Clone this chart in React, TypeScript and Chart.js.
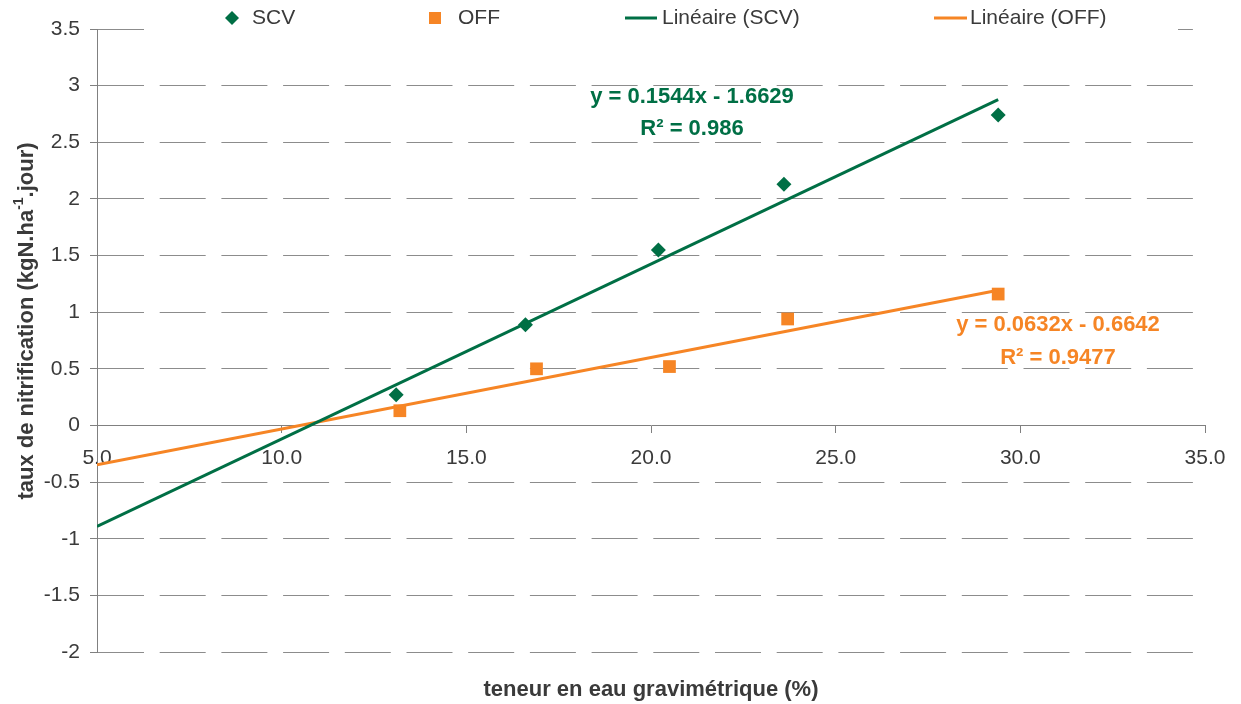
import React, { useEffect, useRef } from 'react';
import { Chart, registerables } from 'chart.js';

Chart.register(...registerables);

// ---- data ----
const scvX = [13.1, 16.6, 20.2, 23.6, 29.4];
const scvY = [0.27, 0.89, 1.55, 2.13, 2.74];
const offX = [13.2, 16.9, 20.5, 23.7, 29.4];
const offY = [0.13, 0.5, 0.52, 0.94, 1.16];
const trendX = [5, 29.4];
const scvTrendY = [-0.891, 2.876];
const offTrendY = [-0.348, 1.194];
const seriesLabels = ['SCV', 'OFF', 'Linéaire (SCV)', 'Linéaire (OFF)'];
const scvEquation = ['y = 0.1544x - 1.6629', 'R² = 0.986'];
const offEquation = ['y = 0.0632x - 0.6642', 'R² = 0.9477'];
const xAxisTitle = 'teneur en eau gravimétrique (%)';
const yAxisTitleParts = ['taux de nitrification (kgN.ha', '-1', '.jour)'];
const xMin = 5, xMax = 35, xStep = 5;
const yMin = -2, yMax = 3.5, yStep = 0.5;

const GREEN = '#006F45';
const ORANGE = '#F68525';
const GRID = '#8c8c8c';
const AXIS = '#808080';
const TEXT = '#3a3a3a';
const FONT = '"Liberation Sans", Arial, sans-serif';

const overlayPlugin = {
  id: 'overlay',
  afterDraw(chart: any) {
    const { ctx, chartArea, scales } = chart;
    const xs = scales.x;
    const ys = scales.y;
    ctx.save();

    // legend (white box over plot top)
    ctx.fillStyle = '#ffffff';
    ctx.fillRect(144, 4, 1034, 30);
    const ly = 18;
    ctx.font = `21px ${FONT}`;
    ctx.textBaseline = 'middle';
    ctx.textAlign = 'left';
    // SCV diamond
    ctx.fillStyle = GREEN;
    ctx.beginPath();
    ctx.moveTo(232 - 7, ly);
    ctx.lineTo(232, ly - 7);
    ctx.lineTo(232 + 7, ly);
    ctx.lineTo(232, ly + 7);
    ctx.closePath();
    ctx.fill();
    ctx.fillStyle = TEXT;
    ctx.fillText(seriesLabels[0], 252, ly);
    // OFF square
    ctx.fillStyle = ORANGE;
    ctx.fillRect(429, ly - 6, 12, 12);
    ctx.fillStyle = TEXT;
    ctx.fillText(seriesLabels[1], 458, ly);
    // trend lines
    ctx.lineWidth = 3;
    ctx.strokeStyle = GREEN;
    ctx.beginPath();
    ctx.moveTo(625, ly);
    ctx.lineTo(657, ly);
    ctx.stroke();
    ctx.fillStyle = TEXT;
    ctx.fillText(seriesLabels[2], 662, ly);
    ctx.strokeStyle = ORANGE;
    ctx.beginPath();
    ctx.moveTo(934, ly);
    ctx.lineTo(967, ly);
    ctx.stroke();
    ctx.fillText(seriesLabels[3], 970, ly);

    // equations
    ctx.font = `bold 22px ${FONT}`;
    ctx.textAlign = 'center';
    ctx.fillStyle = GREEN;
    ctx.fillText(scvEquation[0], xs.getPixelForValue(21.11), ys.getPixelForValue(2.896));
    ctx.fillText(scvEquation[1], xs.getPixelForValue(21.11), ys.getPixelForValue(2.622));
    ctx.fillStyle = ORANGE;
    ctx.fillText(offEquation[0], xs.getPixelForValue(31.02), ys.getPixelForValue(0.883));
    ctx.fillText(offEquation[1], xs.getPixelForValue(31.02), ys.getPixelForValue(0.6));

    // x axis title
    ctx.font = `bold 22px ${FONT}`;
    ctx.fillStyle = TEXT;
    ctx.fillText(xAxisTitle, (chartArea.left + chartArea.right) / 2, 690);

    // y axis title with superscript
    ctx.translate(27, 321);
    ctx.rotate(-Math.PI / 2);
    const mainFont = `bold 22px ${FONT}`;
    const supFont = `bold 14px ${FONT}`;
    ctx.font = mainFont;
    const w1 = ctx.measureText(yAxisTitleParts[0]).width;
    const w3 = ctx.measureText(yAxisTitleParts[2]).width;
    ctx.font = supFont;
    const w2 = ctx.measureText(yAxisTitleParts[1]).width;
    const x0 = -(w1 + w2 + w3) / 2;
    ctx.textAlign = 'left';
    ctx.font = mainFont;
    ctx.fillText(yAxisTitleParts[0], x0, 0);
    ctx.font = supFont;
    ctx.fillText(yAxisTitleParts[1], x0 + w1, -8);
    ctx.font = mainFont;
    ctx.fillText(yAxisTitleParts[2], x0 + w1 + w2, 0);

    ctx.restore();
  },
};

export default function App() {
  const ref = useRef<HTMLCanvasElement | null>(null);
  useEffect(() => {
    if (!ref.current) return;
    const chart = new Chart(ref.current, {
      type: 'scatter',
      data: {
        datasets: [
          {
            label: seriesLabels[0],
            data: scvX.map((x, i) => ({ x, y: scvY[i] })),
            pointStyle: 'rectRot',
            pointRadius: 7.5,
            backgroundColor: GREEN,
            borderColor: GREEN,
            borderWidth: 0,
            order: 2,
          },
          {
            label: seriesLabels[1],
            data: offX.map((x, i) => ({ x, y: offY[i] })),
            pointStyle: 'rect',
            pointRadius: 9,
            backgroundColor: ORANGE,
            borderColor: ORANGE,
            borderWidth: 0,
            order: 2,
          },
          {
            label: seriesLabels[2],
            data: trendX.map((x, i) => ({ x, y: scvTrendY[i] })),
            showLine: true,
            pointRadius: 0,
            borderColor: GREEN,
            borderWidth: 3,
            order: 1,
          },
          {
            label: seriesLabels[3],
            data: trendX.map((x, i) => ({ x, y: offTrendY[i] })),
            showLine: true,
            pointRadius: 0,
            borderColor: ORANGE,
            borderWidth: 3,
            order: 1,
          },
        ],
      },
      options: {
        responsive: false,
        animation: false,
        layout: { padding: { top: 29, right: 36, bottom: 52, left: 0 } },
        plugins: {
          legend: { display: false },
          tooltip: { enabled: false },
          title: { display: false },
        },
        scales: {
          x: {
            type: 'linear',
            position: { y: 0 },
            min: xMin,
            max: xMax,
            afterFit: (s: any) => {
              s.height = 0;
            },
            ticks: {
              stepSize: xStep,
              color: TEXT,
              font: { family: FONT, size: 21 },
              padding: 13,
              maxRotation: 0,
              callback: (v: any) => Number(v).toFixed(1),
            },
            grid: {
              drawOnChartArea: false,
              drawTicks: true,
              tickLength: 7,
              color: AXIS,
              lineWidth: 1,
            },
            border: { display: true, color: AXIS, width: 1 },
          },
          y: {
            type: 'linear',
            position: 'left',
            min: yMin,
            max: yMax,
            afterFit: (s: any) => {
              s.width = 97;
            },
            ticks: {
              stepSize: yStep,
              color: TEXT,
              font: { family: FONT, size: 21 },
              padding: 10,
              callback: (v: any) => String(Math.round(Number(v) * 10) / 10),
            },
            grid: {
              color: GRID,
              lineWidth: 1,
              drawTicks: true,
              tickLength: 7,
              tickColor: AXIS,
            },
            border: { display: true, color: AXIS, width: 1, dash: [46, 15.7] },
          },
        },
      },
      plugins: [overlayPlugin],
    });
    return () => chart.destroy();
  }, []);
  return (
    <div style={{ position: 'fixed', left: 0, top: 0, width: 1241, height: 704, background: '#fff' }}>
      <canvas ref={ref} width={1241} height={704} style={{ display: 'block' }} />
    </div>
  );
}
